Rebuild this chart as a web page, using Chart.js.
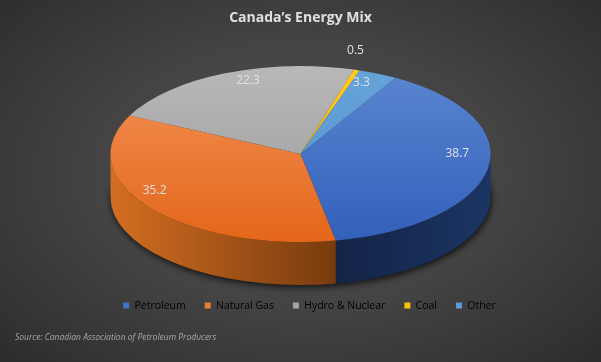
<!DOCTYPE html>
<html>
<head>
<meta charset="utf-8">
<script src="https://cdn.jsdelivr.net/npm/chart.js@4"></script>
<style>
html,body{margin:0;padding:0;}
body{width:601px;height:362px;overflow:hidden;
 background: radial-gradient(ellipse 75% 80% at 50% 48%, #4e4e4e 0%, #444 45%, #333 80%, #282828 100%);}
#wrap{position:relative;width:601px;height:362px;}
</style>
</head>
<body>
<div id="wrap"><canvas id="c" width="601" height="362"></canvas></div>
<script>
// ---- data ----
const categories = ['Petroleum', 'Natural Gas', 'Hydro & Nuclear', 'Coal', 'Other'];
const shareValues = [38.7, 35.2, 22.3, 0.5, 3.3];
const valueLabels = ['38.7', '35.2', '22.3', '0.5', '3.3'];

// ---- styles ----
const baseColors = ['#4472C4', '#ED7D31', '#A5A5A5', '#FFC000', '#5B9BD5'];
const topGrad = [['#5b86d2', '#3260ba'], ['#f29257', '#e4661a'], ['#b8b8b8', '#999999'], ['#ffc91f', '#f5b800'], ['#66a3d9', '#5592cf']];
const sideGrad = [['#132447', '#1b3563'], ['#d46e21', '#773a0e'], ['#7a7a7a', '#555555'], ['#b88a00', '#8a6700'], ['#3d6d99', '#2c5176']];
const labelOffset = [[7, -12], [-25, -6], [9, -9], [10, -36], [-1, -7]];
const RX = 190, RY = 88, DEPTH = 43;
const FONT = "'Open Sans', 'DejaVu Sans', sans-serif";

function topColor(ctx) {
  const chart = ctx.chart, ca = chart.chartArea, i = ctx.dataIndex;
  if (!ca || i === undefined) return baseColors[i] || '#888';
  const cy = (ca.top + ca.bottom) / 2, r = Math.min(ca.width, ca.height) / 2;
  const g = chart.ctx.createLinearGradient(0, cy - r, 0, cy + r);
  g.addColorStop(0, topGrad[i][0]);
  g.addColorStop(1, topGrad[i][1]);
  return g;
}

const pie3d = {
  id: 'pie3d',
  afterLayout(chart) {
    // Excel places this legend slightly right of centre
    if (chart.legend) { chart.legend.left += 9; chart.legend.right += 9; }
  },
  beforeDatasetsDraw(chart) {
    const arcs = chart.getDatasetMeta(0).data;
    const ctx = chart.ctx;
    ctx.save();
    if (!arcs.length) return;
    const cx = arcs[0].x, cy = arcs[0].y, R = arcs[0].outerRadius;
    // shadow under the pie
    ctx.save();
    ctx.beginPath();
    ctx.ellipse(cx, cy + DEPTH, RX, RY, 0, 0, Math.PI * 2);
    ctx.shadowColor = 'rgba(0,0,0,0.8)';
    ctx.shadowBlur = 7;
    ctx.shadowOffsetX = 1;
    ctx.shadowOffsetY = 2;
    ctx.fillStyle = '#222';
    ctx.fill();
    ctx.restore();
    // side walls (front half only)
    arcs.forEach((arc, i) => {
      const a0 = arc.startAngle, a1 = arc.endAngle;
      for (let k = -1; k <= 1; k++) {
        const s = Math.max(a0, 2 * Math.PI * k), e = Math.min(a1, 2 * Math.PI * k + Math.PI);
        if (e > s) {
          const g = ctx.createLinearGradient(cx - RX, 0, cx + RX, 0);
          if (i === 1) { g.addColorStop(0, sideGrad[i][0]); g.addColorStop(0.6, sideGrad[i][1]); g.addColorStop(1, sideGrad[i][1]); }
          else { g.addColorStop(0, sideGrad[i][0]); g.addColorStop(0.6, sideGrad[i][0]); g.addColorStop(1, sideGrad[i][1]); }
          ctx.beginPath();
          ctx.ellipse(cx, cy, RX, RY, 0, s, e, false);
          ctx.ellipse(cx, cy + DEPTH, RX, RY, 0, e, s, true);
          ctx.closePath();
          ctx.fillStyle = g;
          ctx.fill();
        }
      }
    });
    // squash the library's pie into the top face ellipse
    ctx.translate(cx, cy);
    ctx.scale(RX / R, RY / R);
    ctx.translate(-cx, -cy);
  },
  afterDatasetsDraw(chart) {
    const ctx = chart.ctx;
    ctx.restore();
    const arcs = chart.getDatasetMeta(0).data;
    if (!arcs.length) return;
    const cx = arcs[0].x, cy = arcs[0].y;
    ctx.save();
    ctx.font = "12px " + FONT;
    ctx.fillStyle = '#e2e2e2';
    ctx.textAlign = 'center';
    ctx.textBaseline = 'middle';
    arcs.forEach((arc, i) => {
      const m = (arc.startAngle + arc.endAngle) / 2;
      ctx.fillText(valueLabels[i], cx + RX * 0.8 * Math.cos(m) + labelOffset[i][0], cy + RY * 0.8 * Math.sin(m) + labelOffset[i][1]);
    });
    ctx.restore();
  }
};

new Chart(document.getElementById('c'), {
  type: 'pie',
  data: {
    labels: categories,
    datasets: [{
      data: shareValues,
      backgroundColor: topColor,
      borderWidth: 0,
      clip: false
    }]
  },
  options: {
    responsive: false,
    animation: false,
    rotation: 30,
    layout: { padding: { left: 15, right: 15, top: 0, bottom: 0 } },
    plugins: {
      tooltip: { enabled: false },
      title: {
        display: true,
        text: 'Canada\u2019s Energy Mix',
        color: '#e0e0e0',
        font: { family: FONT, size: 14, weight: 'bold' },
        padding: { top: 10, bottom: 0 }
      },
      subtitle: {
        display: true,
        position: 'bottom',
        align: 'start',
        text: 'Source: Canadian Association of Petroleum Producers',
        color: '#a8a8a8',
        font: { family: FONT, size: 8.5, style: 'italic' },
        padding: { top: 12, bottom: 19 }
      },
      legend: {
        position: 'bottom',
        labels: {
          color: '#d9d9d9',
          font: { family: FONT, size: 10.5 },
          boxWidth: 6,
          boxHeight: 6,
          padding: 19,
          generateLabels(chart) {
            return categories.map((c, i) => ({
              text: c, fillStyle: baseColors[i], strokeStyle: baseColors[i], lineWidth: 0, hidden: false, index: i
            }));
          }
        }
      }
    }
  },
  plugins: [pie3d]
});
</script>
</body>
</html>
